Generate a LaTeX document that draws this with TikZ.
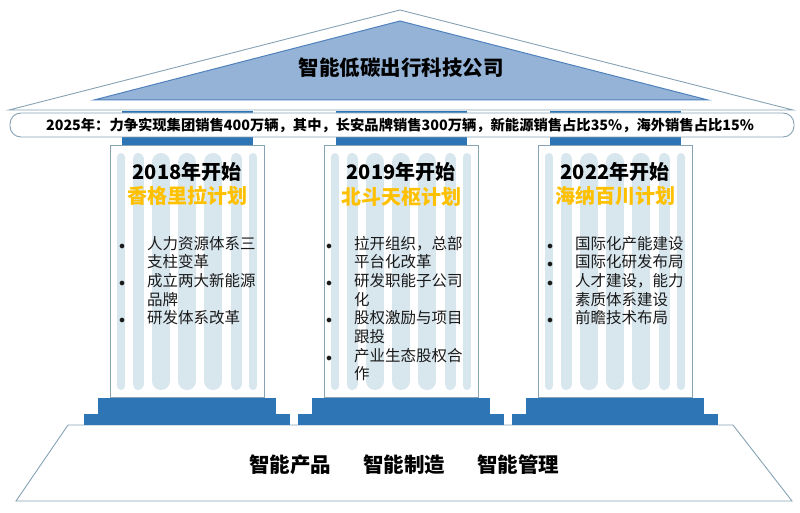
\documentclass[tikz,border=0pt]{standalone}
\usepackage{fontspec}
\newfontfamily\cjk{Noto Sans CJK SC}
\definecolor{capblue}{HTML}{2E75B6}
\definecolor{barblue}{HTML}{D8E6EE}
\definecolor{edgegray}{HTML}{86A3B5}
\definecolor{innerfill}{HTML}{95B3D7}
\definecolor{innerline}{HTML}{4F81BD}
\definecolor{plangold}{HTML}{FFC000}
\definecolor{bodytext}{HTML}{1A1A1A}
\tikzset{
  edge/.style={draw=edgegray, line width=0.9pt},
  flute/.style={barblue, line cap=round},
  yearhead/.style={font=\cjk\bfseries\fontsize{20}{22}\selectfont, text=black, inner sep=0pt},
  planhead/.style={font=\cjk\bfseries\fontsize{20}{22}\selectfont, text=plangold, inner sep=0pt},
  listtext/.style={font=\cjk\fontsize{15.5}{18.6}\selectfont, text=bodytext, inner sep=0pt, anchor=north west, align=left},
  basetext/.style={font=\cjk\bfseries\fontsize{20.5}{22}\selectfont, text=black, inner sep=0pt},
}
\newcommand{\bul}{{\fontsize{12}{12}\selectfont$\bullet$}}
\begin{document}
\begin{tikzpicture}[x=1pt,y=-1pt]
\useasboundingbox (0,0) rectangle (800,513);
% roof
\draw[edge, fill=white] (400,10) -- (9,110) -- (793,110) -- cycle;
\draw[draw=innerline, line width=1pt, fill=innerfill] (400,21) -- (94,100) -- (708,100) -- cycle;
\node[font=\cjk\bfseries\fontsize{20.5}{22}\selectfont, inner sep=0pt] (title) at (401,68) {智能低碳出行科技公司};
% foundation
\draw[edge, fill=white] (68,425) -- (733,425) -- (792,501) -- (16,501) -- cycle;
% columns
\foreach \cx in {187,401,615}{
  \fill[capblue] (\cx-65.5,110.6) rectangle (\cx+65.5,145);
  \draw[edge, fill=white] (\cx-77,145) rectangle (\cx+77,397.5);
  \foreach \dx/\w in {-66/8,-49/11,-26/18,0/18,26/18,49/11,66/8}{
    \draw[flute, line width=\w pt] (\cx+\dx,153+\w/2) -- (\cx+\dx,390-\w/2);
  }
  \fill[capblue] (\cx-89,397.5) rectangle (\cx+89,414.2);
  \fill[capblue] (\cx-103,414) rectangle (\cx+103,425);
}
% banner
\draw[edge, fill=white, rounded corners=11pt] (10,113) rectangle (794,137);
\node[font=\cjk\bfseries\fontsize{14.3}{16}\selectfont, inner sep=0pt] (goal) at (400,125)
  {2025年：力争实现集团销售400万辆，其中，长安品牌销售300万辆，新能源销售占比35\%，海外销售占比15\%};
% column 1
\node[yearhead] (y1) at (187,172) {2018年开始};
\node[planhead] (p1) at (187,196) {香格里拉计划};
\node[listtext] (l1) at (119,236) {\begin{tabular}{@{}p{28pt}@{}l@{}}
\bul & 人力资源体系三\\
 & 支柱变革\\
\bul & 成立两大新能源\\
 & 品牌\\
\bul & 研发体系改革
\end{tabular}};
% column 2
\node[yearhead] (y2) at (401,172) {2019年开始};
\node[planhead] (p2) at (401,197) {北斗天枢计划};
\node[listtext] (l2) at (326,236) {\begin{tabular}{@{}p{28pt}@{}l@{}}
\bul & 拉开组织，总部\\
 & 平台化改革\\
\bul & 研发职能子公司\\
 & 化\\
\bul & 股权激励与项目\\
 & 跟投\\
\bul & 产业生态股权合\\
 & 作
\end{tabular}};
% column 3
\node[yearhead] (y3) at (615,172) {2022年开始};
\node[planhead] (p3) at (615,196) {海纳百川计划};
\node[listtext] (l3) at (547,236) {\begin{tabular}{@{}p{28pt}@{}l@{}}
\bul & 国际化产能建设\\
\bul & 国际化研发布局\\
\bul & 人才建设，能力\\
 & 素质体系建设\\
\bul & 前瞻技术布局
\end{tabular}};
% foundation text
\node[basetext] (b1) at (290,465) {智能产品};
\node[basetext] (b2) at (404,465) {智能制造};
\node[basetext] (b3) at (518,465) {智能管理};
\end{tikzpicture}
\end{document}
